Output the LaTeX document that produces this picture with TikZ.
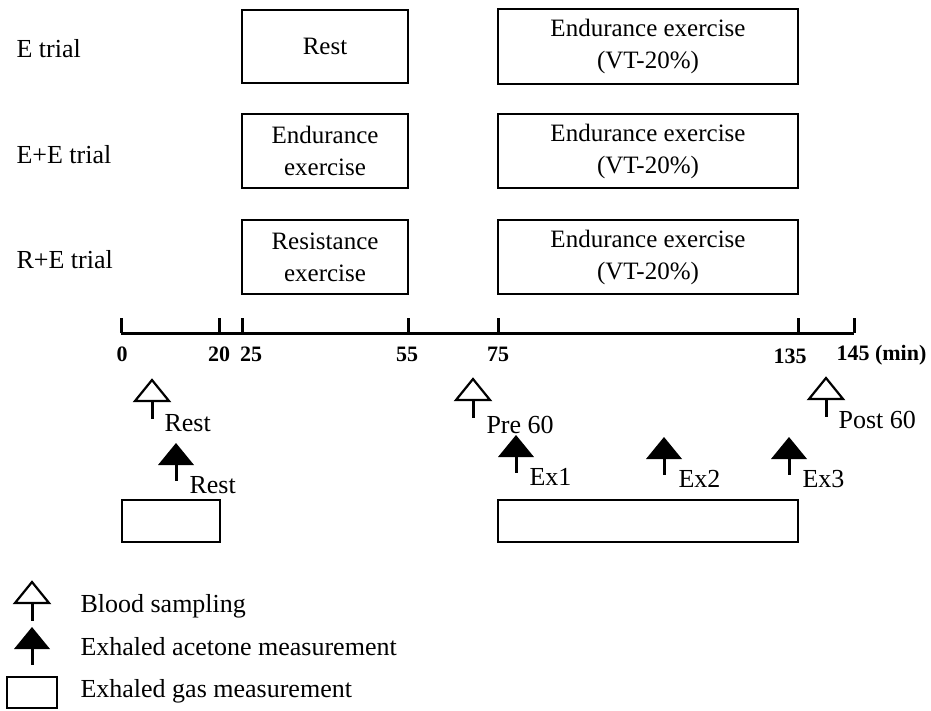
\documentclass[tikz,border=0pt]{standalone}
\usepackage{fontspec}
\setmainfont{Liberation Serif}
\usetikzlibrary{positioning}

\begin{document}
\begin{tikzpicture}[
  x=1pt, y=-1pt,
  phase/.style={rectangle, draw, line width=2pt, align=center, inner sep=0pt,
                font=\fontsize{25}{32}\selectfont},
  trial/.style={anchor=base west, font=\fontsize{26}{31}\selectfont},
  ticklbl/.style={anchor=base, font=\bfseries\fontsize{22}{26}\selectfont},
  ptlbl/.style={anchor=base west, font=\fontsize{26}{31}\selectfont},
  gasbox/.style={rectangle, draw, line width=2pt},
  axis/.style={line width=3pt},
  blood/.pic={\draw[line width=3pt] (0,21) -- (0,39);
              \draw[line width=2.2pt, fill=white, line join=miter] (0,0) -- (17,21) -- (-17,21) -- cycle;},
  acetone/.pic={\draw[line width=3pt] (0,21) -- (0,38);
                \fill (0,0) -- (18,22) -- (-18,22) -- cycle;}
]
\useasboundingbox (0,0) rectangle (931,710);

% trials
\node[trial] (tE)  at (13,57)  {E trial};
\node[trial] (tEE) at (13,163) {E+E trial};
\node[trial] (tRE) at (13,268) {R+E trial};

\node[phase, minimum width=166, minimum height=73] (rest) at (325,46.5) {Rest};
\node[phase, minimum width=300, minimum height=75] (endE) at (648,46) {Endurance exercise\\(VT-20\%)};
\node[phase, minimum width=166, minimum height=74] (pre1) at (325,151) {Endurance\\exercise};
\node[phase, minimum width=300, minimum height=74] (endEE) at (648,151) {Endurance exercise\\(VT-20\%)};
\node[phase, minimum width=166, minimum height=74] (pre2) at (325,257) {Resistance\\exercise};
\node[phase, minimum width=300, minimum height=74] (endRE) at (648,257) {Endurance exercise\\(VT-20\%)};

% time axis
\foreach \m/\x in {0/121, 20/219, 25/242, 55/408, 75/498, 135/798, 145/854}
  \coordinate (m\m) at (\x,333);
\draw[axis] (m0) -- (m145);
\foreach \m in {0,20,25,55,75,135,145}
  \draw[axis] (m\m) -- ++(0,-15);
\node[ticklbl] (l0)   at (122,361) {0};
\node[ticklbl] (l20)  at (219,361) {20};
\node[ticklbl] (l25)  at (251,361) {25};
\node[ticklbl] (l55)  at (407,361) {55};
\node[ticklbl] (l75)  at (498,361) {75};
\node[ticklbl] (l135) at (790,363) {135};
\node[ticklbl, anchor=base west] (l145) at (833,360) {145 (min)};

% sampling points
\pic at (152,380) {blood};
\node[ptlbl] (b1) at (161,431) {Rest};
\pic at (473,379) {blood};
\node[ptlbl] (b2) at (483,433) {Pre 60};
\pic at (826,378) {blood};
\node[ptlbl] (b3) at (835,428) {Post 60};

\pic at (176,443) {acetone};
\node[ptlbl] (a0) at (186,493) {Rest};
\pic at (516,435) {acetone};
\node[ptlbl] (a1) at (526,485) {Ex1};
\pic at (664,437) {acetone};
\node[ptlbl] (a2) at (675,487) {Ex2};
\pic at (789,437) {acetone};
\node[ptlbl] (a3) at (799,487) {Ex3};

\node[gasbox, minimum width=98, minimum height=42] (g1) at (171,521) {};
\node[gasbox, minimum width=300, minimum height=42] (g2) at (648,521) {};

% legend
\pic at (32,582) {blood};
\node[ptlbl] (kb) at (77,612) {Blood sampling};
\pic at (32,627) {acetone};
\node[ptlbl] (ka) at (77,655) {Exhaled acetone measurement};
\node[gasbox, minimum width=50, minimum height=31] (kg) at (32,692.5) {};
\node[ptlbl] (kgl) at (77,697) {Exhaled gas measurement};
\end{tikzpicture}
\end{document}
